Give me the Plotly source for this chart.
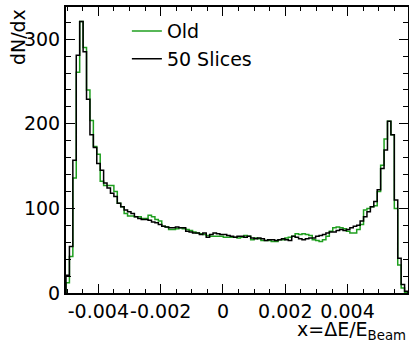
import plotly.graph_objects as go

# Histogram binning (100 equal bins spanning the axis range)
x_lo = -0.00504
x_hi = 0.00594
n_bins = 100

old_counts = [
    12, 43, 136, 261, 321, 290, 240, 204, 173, 164,
    132, 127, 127, 127, 120, 106, 102, 94, 91, 91,
    90, 90, 88, 88, 92, 90, 87, 85, 79, 78,
    75, 75, 76, 77, 76, 75, 74, 72, 71, 70,
    69, 68, 67, 67, 67, 67, 66, 66, 66, 66,
    65, 66, 68, 67, 63, 65, 64, 62, 62, 62,
    61, 61, 63, 63, 65, 66, 67, 70, 69, 70,
    69, 68, 63, 62, 61, 63, 67, 73, 77, 78,
    77, 76, 73, 71, 71, 75, 81, 98, 100, 102,
    103, 120, 151, 182, 203, 187, 100, 33, 6, 1,
]

slices_counts = [
    21, 55, 157, 281, 321, 285, 229, 187, 172, 153,
    145, 130, 124, 118, 114, 106, 102, 98, 96, 94,
    90, 88, 87, 87, 86, 84, 83, 81, 79, 78,
    77, 77, 78, 77, 77, 73, 72, 71, 71, 69,
    71, 66, 69, 71, 70, 69, 69, 68, 67, 66,
    67, 67, 66, 67, 65, 64, 65, 64, 62, 63,
    63, 62, 63, 64, 63, 62, 67, 66, 64, 63,
    64, 65, 65, 67, 68, 69, 71, 72, 72, 74,
    75, 74, 75, 77, 79, 80, 85, 90, 96, 102,
    108, 122, 147, 169, 203, 187, 110, 41, 10, 2,
]

series_names = ["Old", "50 Slices"]
series_colors = ["#1f9f1f", "#000000"]

x_tick_vals = [-0.004, -0.002, 0, 0.002, 0.004]
x_tick_text = ["-0.004", "-0.002", "0", "0.002", "0.004"]
y_tick_vals = [0, 100, 200, 300]

bw = (x_hi - x_lo) / n_bins
edges = [x_lo + i * bw for i in range(n_bins + 1)]


def outline(counts):
    xs = [edges[0]] + edges[:-1] + [edges[-1], edges[-1]]
    ys = [0] + list(counts) + [counts[-1], 0]
    return xs, ys


fig = go.Figure()
for name, counts, col in zip(series_names, [old_counts, slices_counts], series_colors):
    xs, ys = outline(counts)
    fig.add_trace(go.Scatter(x=xs, y=ys, mode="lines", name=name,
                             line=dict(color=col, width=1.5, shape="hv")))

font_family = "DejaVu Sans, Arial, sans-serif"
fsize = 19
axis_common = dict(showline=True, linecolor="black", linewidth=2, mirror="allticks",
                   ticks="inside", ticklen=9, tickwidth=1, tickcolor="black",
                   showgrid=False, zeroline=False, automargin=False,
                   tickfont=dict(family=font_family, size=fsize, color="black"))

fig.update_layout(
    width=409, height=340,
    margin=dict(l=66, r=1, t=7, b=47),
    paper_bgcolor="white", plot_bgcolor="white",
    font=dict(family=font_family, size=fsize, color="black"),
    showlegend=True,
    legend=dict(x=0.178, y=0.982, xanchor="left", yanchor="top",
                bgcolor="rgba(0,0,0,0)", font=dict(size=fsize)),
    xaxis=dict(range=[x_lo, x_hi], tickvals=x_tick_vals, ticktext=x_tick_text,
               tickangle=0,
               minor=dict(dtick=0.0005, ticklen=4, ticks="inside", tickcolor="black"),
               **axis_common),
    yaxis=dict(range=[0, 338], tickvals=y_tick_vals,
               minor=dict(dtick=20, ticklen=5, ticks="inside", tickcolor="black"),
               **axis_common),
    annotations=[
        dict(text="dN/dx", textangle=-90, xref="paper", yref="paper",
             x=-0.14, y=1.0, xanchor="center", yanchor="top", showarrow=False,
             font=dict(size=fsize)),
        dict(text="x=ΔE/E<sub>Beam</sub>", xref="paper", yref="paper",
             x=1.0, y=-0.08, xanchor="right", yanchor="top", showarrow=False,
             font=dict(size=fsize)),
    ],
)

fig.write_html("out.html")
